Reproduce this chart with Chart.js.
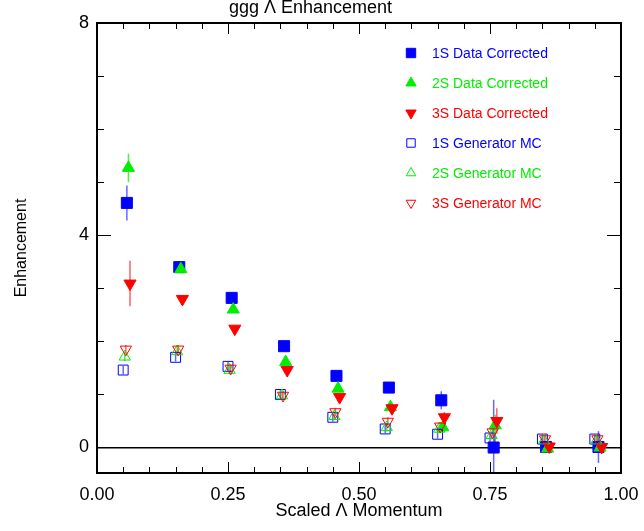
<!DOCTYPE html>
<html>
<head>
<meta charset="utf-8">
<script src="https://cdn.jsdelivr.net/npm/chart.js@4.4.0/dist/chart.umd.min.js"></script>
<style>
  html, body { margin: 0; padding: 0; background: #fff; }
</style>
</head>
<body>
<canvas id="chart" width="644" height="531"></canvas>
<script>
// x positions (each series is drawn a little offset from the bin centre)
const x1SData = [0.057, 0.157, 0.257, 0.357, 0.457, 0.557, 0.657, 0.757, 0.857, 0.957];
const x2SData = [0.060, 0.160, 0.260, 0.360, 0.460, 0.560, 0.660, 0.760, 0.860, 0.960];
const x3SData = [0.063, 0.163, 0.263, 0.363, 0.463, 0.563, 0.663, 0.763, 0.863, 0.963];
const x1SMC = [0.050, 0.150, 0.250, 0.350, 0.450, 0.550, 0.650, 0.750, 0.850, 0.950];
const x2SMC = [0.053, 0.153, 0.253, 0.353, 0.453, 0.553, 0.653, 0.753, 0.853, 0.953];
const x3SMC = [0.055, 0.155, 0.255, 0.355, 0.455, 0.555, 0.655, 0.755, 0.855, 0.955];

// enhancement values
const y1SData = [4.61, 3.40, 2.82, 1.91, 1.35, 1.13, 0.89, 0.00, 0.01, 0.01];
const y2SData = [5.27, 3.36, 2.60, 1.61, 1.11, 0.76, 0.38, 0.42, -0.02, 0.00];
const y3SData = [3.09, 2.80, 2.24, 1.46, 0.95, 0.74, 0.57, 0.50, 0.02, 0.01];
const y1SMC = [1.46, 1.70, 1.53, 1.00, 0.57, 0.35, 0.25, 0.18, 0.16, 0.16];
const y2SMC = [1.71, 1.81, 1.46, 0.98, 0.59, 0.38, 0.35, 0.23, 0.13, 0.13];
const y3SMC = [1.85, 1.85, 1.49, 0.98, 0.67, 0.49, 0.40, 0.29, 0.16, 0.16];

// errors
const e1SData = [0.33, 0.07, 0.05, 0.06, 0.05, 0.05, 0.17, 0.90, 0.05, 0.30];
const e2SData = [0.27, 0.05, 0.05, 0.05, 0.05, 0.05, 0.08, 0.20, 0.05, 0.10];
const e3SData = [0.43, 0.05, 0.05, 0.05, 0.05, 0.05, 0.10, 0.24, 0.05, 0.10];
const eMC = [0.08, 0.08, 0.08, 0.08, 0.08, 0.08, 0.08, 0.08, 0.08, 0.08];

const labels = ['1S Data Corrected', '2S Data Corrected', '3S Data Corrected',
                '1S Generator MC', '2S Generator MC', '3S Generator MC'];
const colors = ['#0000ff', '#00ee00', '#ff0000', '#0000ff', '#00ee00', '#ff0000'];
const errColors = ['rgba(40,40,255,0.7)', 'rgba(0,230,0,0.7)', 'rgba(255,30,30,0.7)',
                   'rgba(40,40,255,0.7)', 'rgba(0,230,0,0.7)', 'rgba(255,30,30,0.7)'];

const xTicks = [0, 0.25, 0.5, 0.75, 1];
const yTicks = [0, 4, 8];

function pts(xs, ys) {
    return xs.map((x, i) => ({ x: x, y: ys[i] }));
}

function makeSet(i, xs, ys, errs, style, rot, filled, radius) {
    return {
        label: labels[i],
        data: pts(xs, ys),
        errors: errs,
        errColor: errColors[i],
        pointStyle: style,
        rotation: rot,
        pointRadius: radius,
        pointHoverRadius: radius,
        borderColor: colors[i],
        backgroundColor: filled ? colors[i] : 'rgba(0,0,0,0)',
        pointBorderWidth: 1,
        showLine: false,
        order: 6 - i
    };
}

const datasets = [
    makeSet(0, x1SData, y1SData, e1SData, 'rect', 0, true, 7.8),
    makeSet(1, x2SData, y2SData, e2SData, 'triangle', 0, true, 7),
    makeSet(2, x3SData, y3SData, e3SData, 'triangle', 180, true, 7),
    makeSet(3, x1SMC, y1SMC, eMC, 'rect', 0, false, 7),
    makeSet(4, x2SMC, y2SMC, eMC, 'triangle', 0, false, 6.5),
    makeSet(5, x3SMC, y3SMC, eMC, 'triangle', 180, false, 6.5)
];

// vertical error bars, drawn under the markers
const errorBars = {
    id: 'errorBars',
    beforeDatasetsDraw(chart) {
        const ctx = chart.ctx;
        const xs = chart.scales.x, ys = chart.scales.y;
        const area = chart.chartArea;
        ctx.save();
        ctx.beginPath();
        ctx.rect(area.left, area.top, area.right - area.left, area.bottom - area.top);
        ctx.clip();
        chart.data.datasets.forEach(ds => {
            ctx.strokeStyle = ds.errColor;
            ctx.lineWidth = 1.5;
            ds.data.forEach((p, i) => {
                const px = xs.getPixelForValue(p.x);
                ctx.beginPath();
                ctx.moveTo(px, ys.getPixelForValue(p.y - ds.errors[i]));
                ctx.lineTo(px, ys.getPixelForValue(p.y + ds.errors[i]));
                ctx.stroke();
            });
        });
        ctx.restore();
    }
};

// box frame with inward ticks on all four sides
const frameTicks = {
    id: 'frameTicks',
    afterDraw(chart) {
        const ctx = chart.ctx;
        const a = chart.chartArea;
        const xs = chart.scales.x, ys = chart.scales.y;
        ctx.save();
        ctx.strokeStyle = '#000';
        ctx.lineWidth = 1;
        for (let k = 1; k < 20; k++) {
            const v = k * 0.05;
            const px = Math.round(xs.getPixelForValue(v)) + 0.5;
            const len = (k % 5 === 0) ? 11 : 6;
            ctx.beginPath();
            ctx.moveTo(px, a.bottom); ctx.lineTo(px, a.bottom - len);
            ctx.moveTo(px, a.top); ctx.lineTo(px, a.top + len);
            ctx.stroke();
        }
        for (let k = 1; k < 8; k++) {
            const py = Math.round(ys.getPixelForValue(k)) + 0.5;
            const len = (k % 4 === 0) ? 14 : 7;
            ctx.beginPath();
            ctx.moveTo(a.left, py); ctx.lineTo(a.left + len, py);
            ctx.moveTo(a.right, py); ctx.lineTo(a.right - len, py);
            ctx.stroke();
        }
        ctx.lineWidth = 2;
        ctx.strokeRect(a.left, a.top, a.right - a.left, a.bottom - a.top);
        ctx.restore();
    }
};

// legend inside the plot, top right
const insideLegend = {
    id: 'insideLegend',
    afterDraw(chart) {
        const ctx = chart.ctx;
        ctx.save();
        ctx.font = '14px "Liberation Sans", Arial, sans-serif';
        ctx.textBaseline = 'middle';
        chart.data.datasets.forEach((ds, i) => {
            const y = 53 + i * 30;
            ctx.fillStyle = ds.backgroundColor;
            ctx.strokeStyle = ds.borderColor;
            ctx.lineWidth = 1;
            Chart.helpers.drawPoint(ctx, {
                pointStyle: ds.pointStyle,
                rotation: ds.rotation,
                radius: ds.pointRadius * 0.85,
                borderWidth: 1
            }, 411, y);
            ctx.fillStyle = ds.borderColor;
            ctx.fillText(ds.label, 432, y + 1);
        });
        ctx.restore();
    }
};

new Chart(document.getElementById('chart'), {
    type: 'scatter',
    data: { datasets: datasets },
    options: {
        responsive: false,
        animation: false,
        events: [],
        layout: { padding: { top: 0, right: 23, left: 0, bottom: 0 } },
        plugins: {
            legend: { display: false },
            tooltip: { enabled: false },
            title: {
                display: true,
                text: 'ggg \u039b Enhancement',
                color: '#000',
                font: { family: '"Liberation Sans", Arial, sans-serif', size: 18, weight: 'normal' },
                padding: { top: -3, bottom: 4.4 }
            }
        },
        scales: {
            x: {
                type: 'linear',
                min: 0,
                max: 1,
                afterBuildTicks: s => { s.ticks = xTicks.map(v => ({ value: v })); },
                afterFit: s => { s.height = 58; s.paddingLeft = 0; s.paddingRight = 0; },
                grid: { display: false, drawTicks: false },
                border: { display: false },
                ticks: {
                    color: '#000',
                    padding: 11,
                    maxRotation: 0,
                    font: { family: '"Liberation Sans", Arial, sans-serif', size: 18 },
                    callback: v => v.toFixed(2)
                },
                title: {
                    display: true,
                    text: 'Scaled \u039b Momentum',
                    color: '#000',
                    font: { family: '"Liberation Sans", Arial, sans-serif', size: 18 },
                    padding: { top: 0, bottom: 9 }
                }
            },
            y: {
                type: 'linear',
                min: -0.48,
                max: 8,
                afterBuildTicks: s => { s.ticks = yTicks.map(v => ({ value: v })); },
                afterFit: s => { s.width = 97; },
                grid: {
                    drawTicks: false,
                    lineWidth: 1.5,
                    color: c => (c.tick && c.tick.value === 0) ? '#000' : 'rgba(0,0,0,0)'
                },
                border: { display: false },
                ticks: {
                    color: '#000',
                    padding: 8,
                    font: { family: '"Liberation Sans", Arial, sans-serif', size: 18 }
                },
                title: {
                    display: true,
                    text: 'Enhancement',
                    color: '#000',
                    font: { family: '"Liberation Sans", Arial, sans-serif', size: 16 },
                    padding: { top: 12, bottom: 0 }
                }
            }
        }
    },
    plugins: [errorBars, frameTicks, insideLegend]
});
</script>
</body>
</html>
